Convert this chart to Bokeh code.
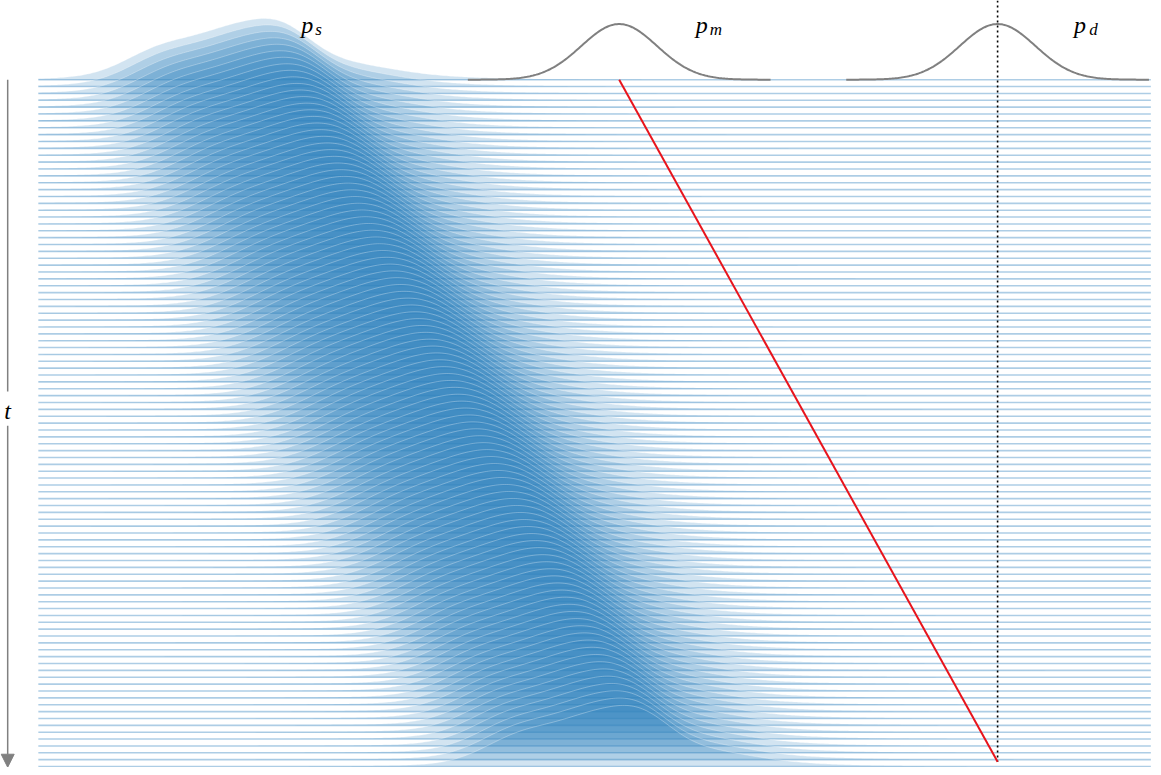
import numpy as np
from bokeh.plotting import figure
from bokeh.models import Range1d, Arrow, NormalHead
from bokeh.core.properties import value
from bokeh.embed import file_html
from bokeh.resources import INLINE

# ---------------- data ----------------
# source distribution p_s as a mixture of Gaussian bumps
# (centres / widths in x units, peak heights in row units)
ps_means = [-12.02, -10.18, -8.87, -7.43, -9.0]
ps_sds = [1.0, 0.92, 0.79, 1.31, 3.1]
ps_heights = [3.9, 5.05, 4.5, 1.45, 1.2]

# drift of the transported density between t = 0 and t = 1 (x units)
drift_start = 0.0
drift_end = 9.5
# extra spread of the density half-way through (x units, sd added at t = 0.5)
mid_extra_sd = 0.7

# time rows (row index = t * 100)
n_rows = 101
t_scale = 100.0

# marginal p_m and target p_d (mean, sd, plotted support)
pm_mean, pm_sd, pm_support = 0.0, 1.0, (-4.0, 4.0)
pd_mean, pd_sd, pd_support = 10.0, 1.0, (6.0, 14.0)
gauss_peak = 8.1           # drawn peak height of p_m / p_d (row units)

# straight path from the p_m mean (t=0) to the p_d mean (t~1)
red_t = [0.0, 0.993]
red_x = [pm_mean, pd_mean]

x_support = (-15.35, 14.05)
labels = ["p", "p", "p"]
label_subs = ["s", "m", "d"]

# ---------------- styling / layout ----------------
FILL = "#3182bd"
x_axis_pos = -16.16

p = figure(width=1153, height=767,
           x_range=Range1d(-16.35, 14.12), y_range=Range1d(100.14, -11.53),
           output_backend="svg", toolbar_location=None, min_border=0)
p.axis.visible = False
p.grid.visible = False
p.outline_line_color = None
p.background_fill_color = "white"
p.border_fill_color = "white"

xs = np.linspace(x_support[0], x_support[1], 500)

def ps_density(x, shift, extra_var):
    h = np.zeros_like(x)
    for m, s, a in zip(ps_means, ps_sds, ps_heights):
        var = s * s + extra_var
        h += a * np.exp(-(x - (m + shift)) ** 2 / (2 * var))
    return h

for i in range(n_rows):
    t = i / (n_rows - 1)
    shift = drift_start + (drift_end - drift_start) * t
    extra_var = (mid_extra_sd ** 2) * 4 * t * (1 - t)
    base = t * t_scale
    h = ps_density(xs, shift, extra_var)
    p.varea(x=xs, y1=np.full_like(xs, base), y2=base - h,
            fill_color=FILL, fill_alpha=0.22)
    p.line(xs, base - h, line_color="white", line_alpha=0.3, line_width=1)
    p.line([x_support[0], x_support[1]], [base, base],
           line_color=FILL, line_alpha=0.4, line_width=1.6)

# p_m and p_d curves
for mean, sd, (lo, hi) in [(pm_mean, pm_sd, pm_support), (pd_mean, pd_sd, pd_support)]:
    gx = np.linspace(lo, hi, 200)
    gy = -gauss_peak * np.exp(-(gx - mean) ** 2 / (2 * sd * sd))
    p.line(gx, gy, line_color="#808080", line_width=2)

# dotted vertical at the p_d mean
p.segment(x0=[pd_mean], y0=[-11.53], x1=[pd_mean], y1=[99.3],
          line_color="black", line_width=1.6, line_dash="2 3")

# red path
p.line(red_x, [v * t_scale for v in red_t], line_color="#e8141c", line_width=2)

# labels
serif = value("Liberation Serif")
p.text(x=[-8.4, 2.02, 12.02], y=[-8.0, -8.0, -8.0], text=labels,
       text_font=serif, text_font_style="italic", text_font_size="24px",
       text_color="black", text_baseline="alphabetic", text_align="left")
p.text(x=[-8.03, 2.39, 12.42], y=[-7.3, -7.3, -7.3], text=label_subs,
       text_font=serif, text_font_style="italic", text_font_size="17px",
       text_color="black", text_baseline="alphabetic", text_align="left")

# time axis arrow with label t
p.segment(x0=[x_axis_pos], y0=[0], x1=[x_axis_pos], y1=[45.4],
          line_color="#808080", line_width=1.5)
p.add_layout(Arrow(end=NormalHead(size=13, fill_color="#808080", line_color="#808080"),
                   x_start=x_axis_pos, y_start=50.4, x_end=x_axis_pos, y_end=100.1,
                   line_color="#808080", line_width=1.5))
p.text(x=[x_axis_pos], y=[48.3], text=["t"], text_font=serif,
       text_font_style="italic", text_font_size="24px", text_color="black",
       text_baseline="alphabetic", text_align="center")

open("out.html", "w").write(file_html(p, INLINE))
